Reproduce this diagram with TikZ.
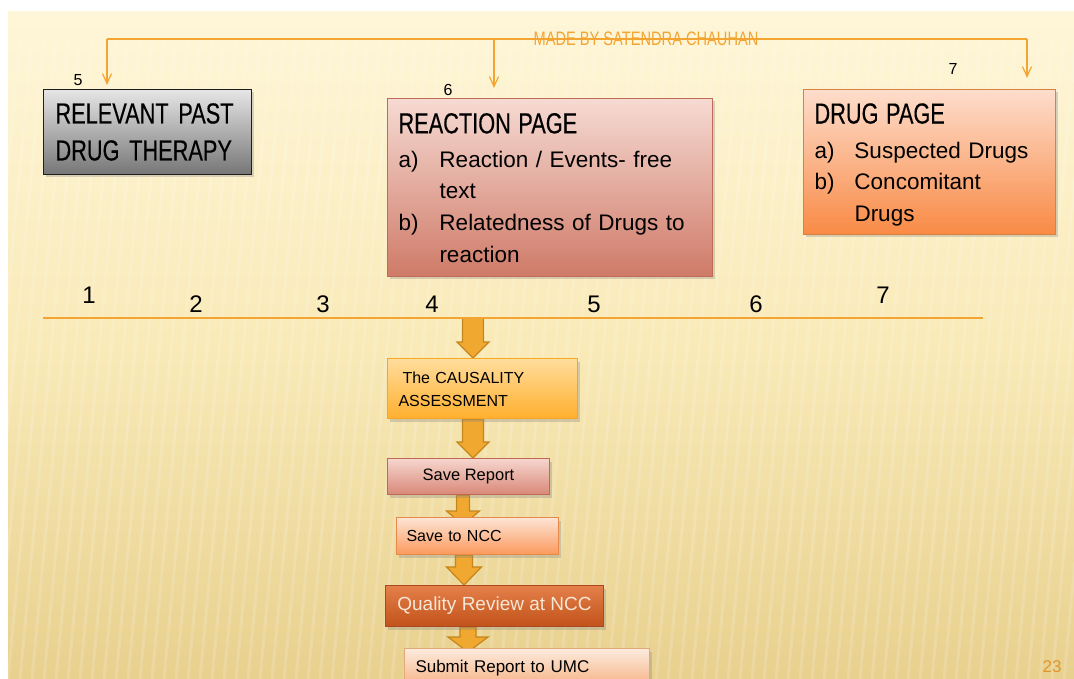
\documentclass[tikz,border=0pt]{standalone}
\usepackage{fontspec}
\setmainfont{Liberation Sans}
\newfontfamily\capsfont{Liberation Sans}[FakeStretch=0.75,FakeBold=0.3]
\newfontfamily\titlefont{Liberation Sans}[FakeStretch=0.75]
\usetikzlibrary{shadows,calc,arrows.meta}
\pgfdeclarelayer{bglayer}
\pgfdeclarelayer{arrlayer}
\pgfsetlayers{bglayer,arrlayer,main}
\definecolor{slidetop}{HTML}{FEF6D8}
\definecolor{slidemid}{HTML}{F9EAB8}
\definecolor{slidebot}{HTML}{E8D08E}
\definecolor{lineor}{HTML}{F3A534}
\definecolor{arrfill}{HTML}{F0A830}
\definecolor{arredge}{HTML}{C4861C}
\definecolor{grayT}{HTML}{E6E6E6}
\definecolor{grayB}{HTML}{767676}
\definecolor{grayE}{HTML}{1E1E1E}
\definecolor{reactT}{HTML}{F6DAD2}
\definecolor{reactB}{HTML}{CF7A68}
\definecolor{reactE}{HTML}{C06A58}
\definecolor{drugT}{HTML}{FDDDCC}
\definecolor{drugB}{HTML}{F98A45}
\definecolor{drugE}{HTML}{D9823F}
\definecolor{causT}{HTML}{FFDD9C}
\definecolor{causB}{HTML}{FFAF2E}
\definecolor{causE}{HTML}{F5A623}
\definecolor{saveT}{HTML}{F6D6CE}
\definecolor{saveB}{HTML}{D98878}
\definecolor{saveE}{HTML}{C06858}
\definecolor{nccT}{HTML}{FDE4D5}
\definecolor{nccB}{HTML}{FB995C}
\definecolor{nccE}{HTML}{E68A4A}
\definecolor{qualT}{HTML}{E4804A}
\definecolor{qualB}{HTML}{C2521A}
\definecolor{qualE}{HTML}{A84A1E}
\definecolor{qualTxt}{HTML}{F8E6D6}
\definecolor{subT}{HTML}{FCEBDD}
\definecolor{subB}{HTML}{F6B080}
\definecolor{subE}{HTML}{E3A878}
\definecolor{pagenum}{HTML}{E0952E}
\tikzset{
  box/.style={draw, line width=1pt, anchor=north west, inner ysep=0pt, inner xsep=11pt,
    align=left, drop shadow={shadow xshift=2pt, shadow yshift=-3pt, opacity=0.3}},
  cbox/.style={box, align=center},
  orline/.style={draw=lineor, line width=1.2pt},
  orarrow/.style={orline, -{Straight Barb[length=10pt,width=9pt]}},
  bignum/.style={font=\fontsize{24}{24}\selectfont, inner sep=0pt},
  smallnum/.style={font=\fontsize{16}{16}\selectfont, inner sep=0pt},
  fatarrowstyle/.style={draw=arredge, fill=arrfill, line width=1.2pt, line join=miter}
}
\newcommand\fatarrow[6]{%
  \path[fatarrowstyle] let \p1=(#1), \p2=(#2), \p3=(#3) in
   (\x1-#4pt,\y2) -- (\x1+#4pt,\y2) -- (\x1+#4pt,\y3+#6pt) -- (\x1+#5pt,\y3+#6pt)
   -- (\x1,\y3) -- (\x1-#5pt,\y3+#6pt) -- (\x1-#4pt,\y3+#6pt) -- cycle;}
\begin{document}
\begin{tikzpicture}[x=1pt,y=-1pt]
\useasboundingbox (0,0) rectangle (1074,679);
\begin{pgfonlayer}{bglayer}
  \fill[white] (0,0) rectangle (1074,679);
  \shade[top color=slidetop, bottom color=slidebot, middle color=slidemid] (8,12) rectangle (1074,679);
  \begin{scope}
    \clip (8,12) rectangle (1074,679);
    \foreach \i in {0,...,95} {
      \draw[white, opacity=0.15, line width=3pt] (8+12*\i,40) -- (8+12*\i-60,679);
    }
  \end{scope}
\end{pgfonlayer}

% title and top connector
\coordinate (tl) at (107,39);
\coordinate (tm) at (494,39);
\coordinate (tr) at (1027,39);
\draw[orline] (tl) -- (tr);
\node[text=lineor, font={\titlefont\fontsize{19.5}{19.5}\selectfont}, inner sep=0pt] (title) at (646,39) {MADE BY SATENDRA CHAUHAN};

% top boxes
\node[box, top color=grayT, bottom color=grayB, draw=grayE, text width=184pt, inner xsep=12pt,
  minimum height=85pt, font={\capsfont\fontsize{29}{37}\selectfont}] (past) at (43,89)
  {RELEVANT PAST\\DRUG THERAPY};

\node[box, top color=reactT, bottom color=reactB, draw=reactE, text width=303pt,
  minimum height=178pt, font={\fontsize{22.5}{31.7}\selectfont}] (react) at (387,98)
  {\begin{tabular}{@{}p{41pt}@{}l@{}}
   \multicolumn{2}{@{}l@{}}{\rule{0pt}{30pt}\capsfont\fontsize{29}{29}\selectfont REACTION PAGE}\\[2pt]
   a) & Reaction / Events- free\\
      & text\\
   b) & Relatedness of Drugs to\\
      & reaction
   \end{tabular}};

\node[box, top color=drugT, bottom color=drugB, draw=drugE, text width=230pt,
  minimum height=145pt, font={\fontsize{22.5}{31.5}\selectfont}] (drug) at (803,89)
  {\begin{tabular}{@{}p{40pt}@{}l@{}}
   \multicolumn{2}{@{}l@{}}{\rule{0pt}{30pt}\capsfont\fontsize{29}{29}\selectfont DRUG PAGE}\\[3pt]
   a) & Suspected Drugs\\
   b) & Concomitant\\
      & Drugs
   \end{tabular}};

\draw[orarrow, shorten >=4pt] (tl) -- (tl |- past.north);
\draw[orarrow, shorten >=10pt] (tm) -- (tm |- react.north);
\draw[orarrow, shorten >=11pt] (tr) -- (tr |- drug.north);

\node[smallnum] (n5top) at (78,80) {5};
\node[smallnum] (n6top) at (448,90) {6};
\node[smallnum] (n7top) at (953,69) {7};

% number line
\coordinate (nl) at (43,318);
\coordinate (nr) at (983,318);
\draw[orline] (nl) -- (nr);
\node[bignum] (d1) at (89,295) {1};
\node[bignum] (d2) at (196,304) {2};
\node[bignum] (d3) at (323,304) {3};
\node[bignum] (d4) at (432,304) {4};
\node[bignum] (d5) at (594,304) {5};
\node[bignum] (d6) at (756,304) {6};
\node[bignum] (d7) at (883,295) {7};

% flow boxes
\node[box, top color=causT, bottom color=causB, draw=causE, text width=168pt,
  minimum height=60pt, font={\fontsize{16}{23}\selectfont}] (caus) at (387,358)
  {\rule{0pt}{14pt}\hspace*{4pt}The CAUSALITY\\ASSESSMENT};
\node[cbox, top color=saveT, bottom color=saveB, draw=saveE, minimum width=162pt,
  minimum height=36pt, font={\fontsize{16.5}{20}\selectfont}] (saverep) at (387,458) {Save Report};
\node[box, top color=nccT, bottom color=nccB, draw=nccE, text width=142pt, inner xsep=10pt,
  minimum height=37pt, font={\fontsize{16}{20}\selectfont}] (ncc) at (396,517) {Save to NCC};
\node[cbox, top color=qualT, bottom color=qualB, draw=qualE, text=qualTxt, minimum width=218pt,
  minimum height=41pt, font={\fontsize{19}{22}\selectfont}] (qual) at (385,585) {Quality Review at NCC};
\node[box, top color=subT, bottom color=subB, draw=subE, text width=223pt,
  minimum height=40pt, font={\fontsize{17}{20}\selectfont}] (umc) at (404,648) {Submit Report to UMC};

% fat arrows (behind the boxes)
\coordinate (ax1) at (473,0);
\coordinate (ax3) at (463,0);
\coordinate (ax4) at (464,0);
\coordinate (ax5) at (468,0);
\begin{pgfonlayer}{arrlayer}
  \fatarrow{ax1}{nl}{caus.north}{10.5}{16}{16}
  \fatarrow{ax1}{caus.south}{saverep.north}{10.5}{16}{16}
  \fatarrow{ax3}{saverep.south}{$(ncc.north)+(0,8)$}{6.5}{16.5}{14}
  \fatarrow{ax4}{ncc.south}{qual.north}{8.5}{17.5}{18}
  \fatarrow{ax5}{qual.south}{$(umc.north)+(0,4)$}{8}{20}{15}
\end{pgfonlayer}

\node[text=pagenum, font={\fontsize{17}{17}\selectfont}, inner sep=0pt] (page) at (1052,667) {23};
\end{tikzpicture}
\end{document}
